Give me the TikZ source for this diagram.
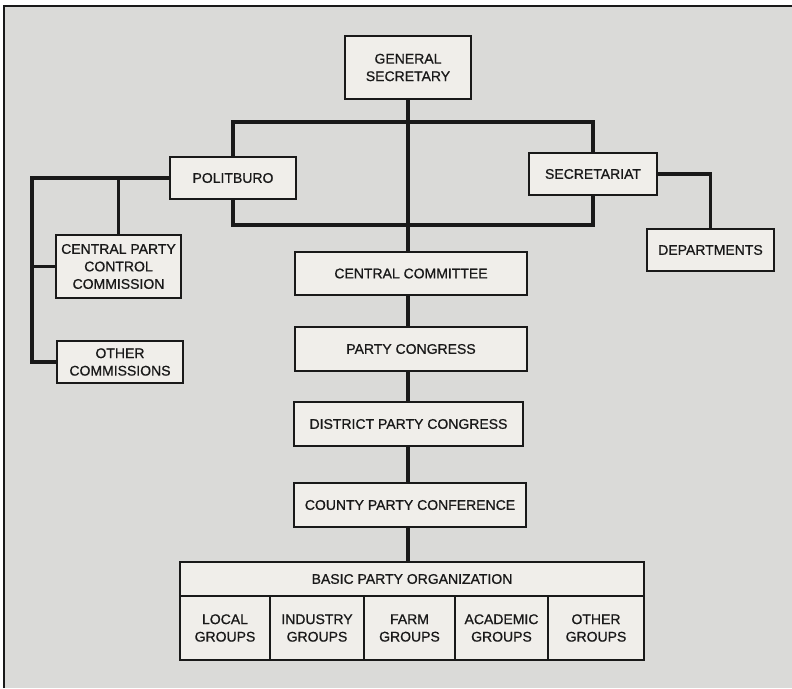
\documentclass[tikz,border=0pt]{standalone}
\usepackage{fontspec}
\setmainfont{Liberation Sans}
\newfontfamily\boxfont{Liberation Sans}[RawFeature={embolden=0.8}]
\definecolor{bgcol}{RGB}{218,218,216}
\definecolor{boxcol}{RGB}{240,238,234}
\definecolor{inkcol}{RGB}{25,25,25}
\begin{document}
\begin{tikzpicture}[x=1pt,y=-1pt,
  box/.style={draw=inkcol,line width=1.8pt,fill=boxcol,align=center,inner sep=0pt,
    text=inkcol,font=\boxfont\fontsize{14}{17.5}\selectfont},
  conn/.style={draw=inkcol,line width=3.4pt,line cap=butt}]
\useasboundingbox (0,0) rectangle (792,688);
\fill[white] (0,0) rectangle (792,688);
\fill[bgcol] (4,6) rectangle (792,688);
\draw[inkcol,line width=2pt] (4,688) -- (4,6) -- (792,6);
% nodes
\node[box,minimum width=126pt,minimum height=63pt] (gs) at (408,67.5) {GENERAL\\SECRETARY};
\node[box,minimum width=126pt,minimum height=42pt] (pol) at (233,178) {POLITBURO};
\node[box,minimum width=128pt,minimum height=42pt] (sec) at (593,174) {SECRETARIAT};
\node[box,minimum width=127pt,minimum height=42pt] (dep) at (710.5,250) {DEPARTMENTS};
\node[box,minimum width=125pt,minimum height=63pt] (cpcc) at (118.5,266.5) {CENTRAL PARTY\\CONTROL\\COMMISSION};
\node[box,minimum width=126pt,minimum height=42pt] (oc) at (120,362) {OTHER\\COMMISSIONS};
\node[box,minimum width=232pt,minimum height=43pt] (cc) at (411,273.5) {CENTRAL COMMITTEE};
\node[box,minimum width=232pt,minimum height=44pt] (pc) at (411,349) {PARTY CONGRESS};
\node[box,minimum width=229pt,minimum height=44pt] (dpc) at (408.5,424) {DISTRICT PARTY CONGRESS};
\node[box,minimum width=232pt,minimum height=44pt] (cpc) at (410,505) {COUNTY PARTY CONFERENCE};
\node[box,minimum width=464pt,minimum height=34pt] (bpo) at (412,579) {BASIC PARTY ORGANIZATION};
\node[box,minimum width=90pt,minimum height=64pt] (g1) at (225,628) {LOCAL\\GROUPS};
\node[box,minimum width=94pt,minimum height=64pt] (g2) at (317,628) {INDUSTRY\\GROUPS};
\node[box,minimum width=91pt,minimum height=64pt] (g3) at (409.5,628) {FARM\\GROUPS};
\node[box,minimum width=93pt,minimum height=64pt] (g4) at (501.5,628) {ACADEMIC\\GROUPS};
\node[box,minimum width=96pt,minimum height=64pt] (g5) at (596,628) {OTHER\\GROUPS};
% connectors
\draw[conn] (pol.north) -- ++(0,-34) -| (sec.north);
\draw[conn] (pol.south) -- ++(0,25) -| (sec.south);
\draw[conn] (gs.south) -- (gs.south |- cc.north);
\draw[conn] (sec.east) -| (dep.north);
\draw[conn] (pol.west) -- ++(-137,0) coordinate (lc) |- (oc.west);
\draw[conn] (lc |- cpcc.west) -- (cpcc.west);
\draw[conn] (cpcc.north) -- (cpcc.north |- pol.west);
\draw[conn] (cc.south -| gs.south) -- (pc.north -| gs.south);
\draw[conn] (pc.south -| gs.south) -- (dpc.north -| gs.south);
\draw[conn] (dpc.south -| gs.south) -- (cpc.north -| gs.south);
\draw[conn] (cpc.south -| gs.south) -- (bpo.north -| gs.south);
\end{tikzpicture}
\end{document}
